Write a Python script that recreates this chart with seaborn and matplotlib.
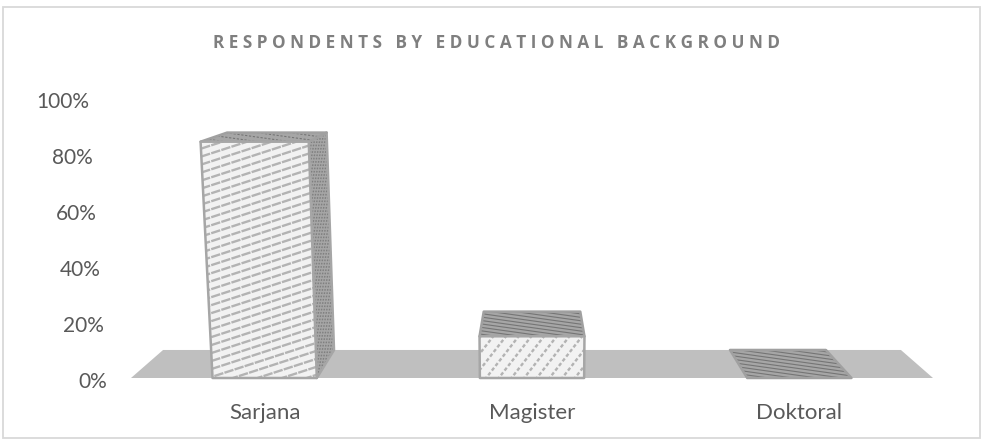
import numpy as np
import pandas as pd
import matplotlib
matplotlib.use("Agg")
import matplotlib.pyplot as plt
import seaborn as sns
from matplotlib.collections import LineCollection
from matplotlib.patches import Polygon, Rectangle
from matplotlib.transforms import IdentityTransform, ScaledTranslation

categories = ["Sarjana", "Magister", "Doktoral"]
percentages = [85, 15, 0]
y_ticks = [0, 20, 40, 60, 80, 100]
title = "R E S P O N D E N T S   B Y   E D U C A T I O N A L   B A C K G R O U N D"

W, H = 982, 444
AX_L, AX_R, AX_T, AX_B = 131, 933, 100, 378

# fake 3d camera, in data units
VP_X, VP_Y = 1.0, 126.0
DEPTH = 0.08
LEAN = 0.00044


def front(x, y):
    return (x + (x - VP_X) * y * LEAN, y)


def rear(x, y):
    fx, fy = front(x, y)
    return (fx + (VP_X - fx) * DEPTH, fy + (VP_Y - fy) * DEPTH)


def face(ax, pts, fill, edge, stripe, angle, gap, lw, dash=None, z=3):
    poly = Polygon(pts, closed=True, facecolor=fill, edgecolor="none", zorder=z, clip_on=False)
    ax.add_patch(poly)
    # stripes drawn in pixels, then clipped to the face
    px = ax.transData.transform(pts)
    c = px.mean(axis=0)
    r = np.ptp(px, axis=0).sum() + 10
    a = np.radians(angle)
    d = np.array([np.cos(a), np.sin(a)])
    n = np.array([-d[1], d[0]])
    segs = [[c + n * o - d * r, c + n * o + d * r] for o in np.arange(-r, r, gap)]
    lines = LineCollection(segs, colors=stripe, linewidths=lw, transform=IdentityTransform(), zorder=z + 0.1)
    if dash:
        lines.set_linestyle((0, dash))
    ax.add_collection(lines, autolim=False)
    lines.set_clip_path(poly)
    ax.add_patch(Polygon(pts, closed=True, facecolor="none", edgecolor=edge, linewidth=1.8,
                         joinstyle="round", zorder=z + 0.2, clip_on=False))


sns.set_theme(style="white")
plt.rcParams["font.family"] = ["Lato", "DejaVu Sans"]

fig = plt.figure(figsize=(W / 100, H / 100), dpi=100)
fig.patches.append(Rectangle((3 / W, 1 - 438 / H), 977 / W, 431 / H, transform=fig.transFigure,
                             facecolor="white", edgecolor="#d9d9d9", linewidth=1.3, zorder=-1))
ax = fig.add_axes([AX_L / W, 1 - AX_B / H, (AX_R - AX_L) / W, (AX_B - AX_T) / H])
ax.patch.set_alpha(0)

df = pd.DataFrame({"level": categories, "pct": percentages})
sns.barplot(data=df, x="level", y="pct", width=0.39, color="#f2f2f2", ax=ax)
ax.set_xlim(-0.5, 2.5)
ax.set_ylim(0, 100)
ax.set_xlabel("")
ax.set_ylabel("")
sns.despine(ax=ax, left=True, bottom=True)

# floor
x0, x1 = ax.get_xlim()
ax.add_patch(Polygon([(x0, 0), (x1, 0), rear(x1, 0), rear(x0, 0)], closed=True,
                     facecolor="#bfbfbf", edgecolor="none", zorder=1, clip_on=False))

for bar in list(ax.patches[:len(categories)]):
    bar.set_visible(False)
    l, r, h = bar.get_x(), bar.get_x() + bar.get_width(), bar.get_height()
    if rear(r, h)[0] > front(r, h)[0]:
        face(ax, [front(r, h), rear(r, h), rear(r, 0), front(r, 0)], "#a6a6a6", "#a6a6a6",
             "#7f7f7f", 80, 2.6, 1.0, dash=(1.2, 1.2), z=2)
    tall = h > 50
    face(ax, [front(l, h), front(r, h), rear(r, h), rear(l, h)], "#a6a6a6", "#a0a0a0", "#757575",
         -8, 4.5 if tall else 3.4, 0.8, dash=(2, 1.5) if tall else None, z=3)
    if h > 0:
        face(ax, [front(l, 0), front(r, 0), front(r, h), front(l, h)], "#f2f2f2", "#a6a6a6", "#b3b3b3",
             18 if tall else 52, 7.6 if tall else 10, 1.7, dash=(4, 0.5) if tall else (1.5, 1), z=4)

ax.set_yticks(y_ticks)
ax.set_yticklabels([f"{v}%" for v in y_ticks])
ax.tick_params(axis="y", length=0, pad=17, labelsize=15, labelcolor="#595959")
ax.tick_params(axis="x", length=0, pad=18, labelsize=16, labelcolor="#595959")

# 3d chart labels step back with the wall
for v, lab in zip(y_ticks, ax.get_yticklabels()):
    dx, dy = -18 * v / 100, -2 * (1 - v / 100)
    lab.set_transform(lab.get_transform() + ScaledTranslation(dx / 100, dy / 100, fig.dpi_scale_trans))

fig.text(496.5 / W, 1 - 43 / H, title, ha="center", va="center", fontsize=12.3, fontweight="bold",
         color="#7f7f7f", family=["Open Sans", "DejaVu Sans"])

fig.savefig("out.png", dpi=100)
plt.close(fig)
